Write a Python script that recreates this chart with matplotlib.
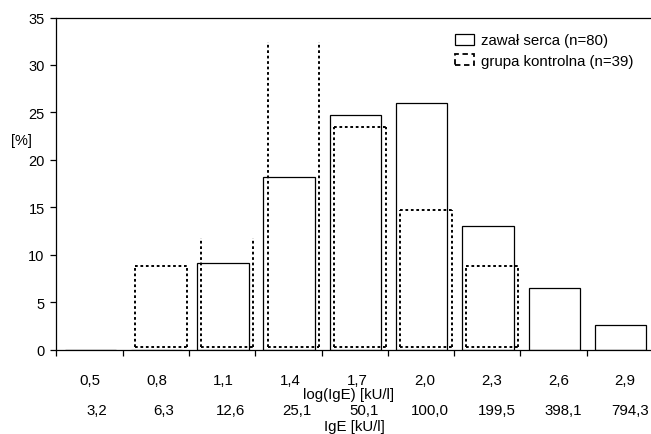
import matplotlib
matplotlib.use("Agg")
import matplotlib.pyplot as plt
from matplotlib.patches import Rectangle
import numpy as np

plt.rcParams['font.family'] = ['Liberation Sans', 'DejaVu Sans']

# ---- data ----
log_labels = ["0,5", "0,8", "1,1", "1,4", "1,7", "2,0", "2,3", "2,6", "2,9"]
ige_labels = ["3,2", "6,3", "12,6", "25,1", "50,1", "100,0", "199,5", "398,1", "794,3"]
zawal = [0.0, 0.0, 9.1, 18.2, 24.7, 26.0, 13.0, 6.5, 2.6]        # zawał serca (n=80)
kontrola = [0.0, 8.8, 11.8, 32.4, 23.5, 14.7, 8.8, 0.0, 0.0]     # grupa kontrolna (n=39)
yticks = [0, 5, 10, 15, 20, 25, 30, 35]
label_main = "zawał serca (n=80)"
label_ctrl = "grupa kontrolna (n=39)"

W, H = 651, 435
fig = plt.figure(figsize=(W / 100, H / 100), dpi=100)
ax = fig.add_axes([56.5 / W, (H - 350.7) / H, (653 - 56.5) / W, (350.7 - 18.5) / H])

n = len(log_labels)
idx = np.arange(n)
ax.set_xlim(0, n)
ax.set_ylim(0, 35)

dot = (0, (1.4, 1.4))
# solid bars (main group)
main_x = idx + 0.51
ax.bar(main_x, zawal, width=0.775, fill=False, edgecolor='black', linewidth=0.9, zorder=2)

# dotted bars (control group) drawn as outlines
ctrl_x = idx + 0.576
cw = 0.78
for i, v in enumerate(kontrola):
    if v <= 0:
        continue
    l, r = ctrl_x[i] - cw / 2, ctrl_x[i] + cw / 2
    ax.vlines([l, r], 0.25, v, colors='black', linestyles=dot, linewidth=1.4, zorder=3)
    ax.hlines(0.25, l, r, colors='black', linestyles=dot, linewidth=1.4, zorder=3)
    if v <= zawal[i] or zawal[i] == 0:
        ax.hlines(v, l, r, colors='black', linestyles=dot, linewidth=1.4, zorder=3)

# spines & ticks
for s in ['left', 'bottom', 'top']:
    ax.spines[s].set_linewidth(0.9)
ax.spines['right'].set_visible(False)
ax.set_yticks(yticks)
ax.set_yticklabels([str(t) for t in yticks], fontsize=10.5)
ax.tick_params(axis='y', direction='out', length=4, width=0.9, pad=4.5)
ax.set_xticks(np.arange(0, n + 1))
ax.set_xticklabels([])
ax.tick_params(axis='x', direction='out', length=4, width=0.9)

fs = 10.8
xt = ax.get_xaxis_transform()
for i in range(n):
    ax.text(0.5 + i * 1.01, -0.1033, log_labels[i], transform=xt,
            ha='center', va='baseline', fontsize=fs)
    ax.text(0.61 + i * 1.006, -0.1936, ige_labels[i], transform=xt,
            ha='center', va='baseline', fontsize=fs)

fig.text(349 / W, 1 - 399 / H, "log(IgE) [kU/l]", ha='center', va='baseline', fontsize=fs)
fig.text(354.5 / W, 1 - 431.5 / H, "IgE [kU/l]", ha='center', va='baseline', fontsize=fs)
fig.text(21 / W, 1 - 141 / H, "[%]", ha='center', va='center', fontsize=10.5)

# legend
h1 = Rectangle((0, 0), 1, 1, fill=False, edgecolor='black', linewidth=0.9)
h2 = Rectangle((0, 0), 1, 1, fill=False, edgecolor='black', linewidth=1.3, linestyle=(0, (3, 2)))
ax.legend([h1, h2], [label_main, label_ctrl], loc='upper left',
          bbox_to_anchor=(455 / W, 1 - 34.5 / H), bbox_transform=fig.transFigure,
          frameon=False, fontsize=fs, handlelength=1.27, handleheight=0.8,
          handletextpad=0.45, labelspacing=0.42, borderaxespad=0, borderpad=0)

fig.savefig("out.png", dpi=100)
